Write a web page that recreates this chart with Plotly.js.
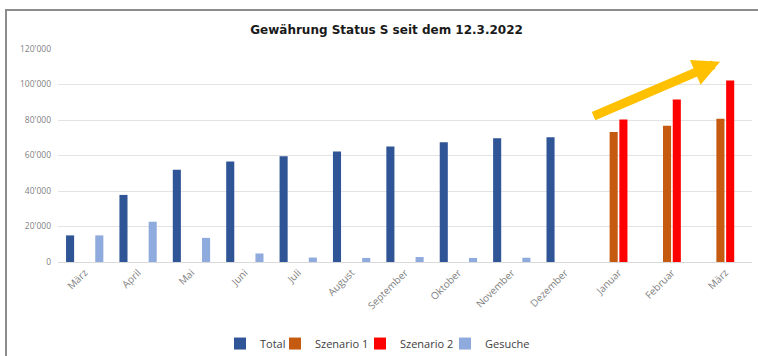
<!DOCTYPE html>
<html>
<head>
<meta charset="utf-8">
<script src="https://cdn.plot.ly/plotly-3.0.1.min.js"></script>
<style>
  html, body { margin: 0; padding: 0; background: #ffffff; }
  #wrap { position: relative; width: 758px; height: 356px; overflow: hidden; }
  #chart { position: absolute; left: 0; top: 0; width: 758px; height: 356px; }
  #frame {
    position: absolute; left: 5px; top: 9px; width: 780px; height: 380px;
    border: 2px solid #8c8c8c; box-sizing: border-box; pointer-events: none;
  }
</style>
</head>
<body>
<div id="wrap">
  <div id="chart"></div>
  <div id="frame"></div>
</div>
<script>
// Months from März 2022 to März 2023
const months = ["März", "April", "Mai", "Juni", "Juli", "August", "September",
                "Oktober", "November", "Dezember", "Januar", "Februar", "März"];

// Persons with granted status S (cumulative)
const total = [15000, 37800, 52000, 56600, 59600, 62300, 65100, 67500, 69700, 70300, null, null, null];
// Forecast scenarios
const szenario1 = [null, null, null, null, null, null, null, null, null, null, 73300, 76700, 80700];
const szenario2 = [null, null, null, null, null, null, null, null, null, null, 80300, 91500, 102300];
// Monthly applications
const gesuche = [15000, 22700, 13600, 4800, 2500, 2300, 2800, 2300, 2400, null, null, null, null];

const idx = months.map((_, i) => i);

function barTrace(name, values, color, legendId) {
  return {
    type: "bar", name: name, x: idx, y: values,
    marker: { color: color },
    legend: legendId,
    hoverinfo: "y+name"
  };
}

const data = [
  barTrace("Total", total, "#2f5597", "legend"),
  barTrace("Szenario 1", szenario1, "#c55a11", "legend2"),
  barTrace("Szenario 2", szenario2, "#ff0000", "legend3"),
  barTrace("Gesuche", gesuche, "#8faadc", "legend4")
];

// one legend box per series so the entries sit in a compact row
function legendAt(xpx) {
  return {
    orientation: "h", xref: "container", x: xpx / 758, xanchor: "left",
    yref: "container", y: 0.035, yanchor: "middle",
    font: { family: "Open Sans", size: 11, color: "#404040" },
    itemwidth: 30, bgcolor: "rgba(0,0,0,0)"
  };
}

const layout = {
  width: 758, height: 356,
  margin: { l: 58, r: 6, t: 49, b: 94 },
  paper_bgcolor: "#ffffff", plot_bgcolor: "#ffffff",
  separators: ".'",
  barmode: "group", bargap: 0.27, bargroupgap: 0.17,
  title: {
    text: "<b>Gewährung Status S seit dem 12.3.2022</b>",
    font: { family: "DejaVu Sans", size: 12, color: "#1a1a1a" },
    x: 0.51, xanchor: "center", y: 0.915, yanchor: "middle"
  },
  xaxis: {
    type: "linear", range: [-0.5, 12.5],
    tickmode: "array", tickvals: idx, ticktext: months,
    tickangle: -45, ticks: "", showgrid: false, zeroline: false,
    showline: true, linecolor: "#d9d9d9", linewidth: 1,
    tickfont: { family: "Open Sans", size: 10, color: "#7f7f7f" }
  },
  yaxis: {
    range: [0, 120000], dtick: 20000, tickformat: ",",
    showgrid: true, gridcolor: "#e3e3e3", gridwidth: 1,
    zeroline: false, showline: false, ticks: "",
    ticklabelstandoff: 6,
    tickfont: { family: "Open Sans", size: 8.5, color: "#7f7f7f" }
  },
  showlegend: true,
  legend: legendAt(220),
  legend2: legendAt(275),
  legend3: legendAt(360),
  legend4: legendAt(445),
  annotations: [{
    xref: "paper", yref: "paper", x: 0.954, y: 0.94,
    ax: -128, ay: 55, axref: "pixel", ayref: "pixel",
    text: "", showarrow: true, arrowhead: 2, arrowsize: 0.6,
    arrowwidth: 9, arrowcolor: "#ffc000"
  }]
};

Plotly.newPlot("chart", data, layout, { displayModeBar: false, staticPlot: true });
</script>
</body>
</html>
